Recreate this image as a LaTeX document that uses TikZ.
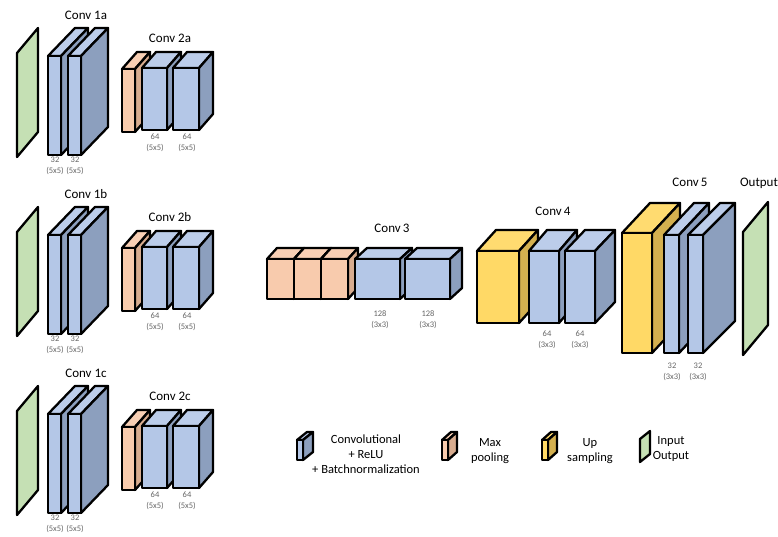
\documentclass[tikz,border=0pt]{standalone}
\usepackage{fontspec}
\setmainfont{Carlito}
\definecolor{convfront}{HTML}{B4C7E7}
\definecolor{convtop}{HTML}{BCCDEA}
\definecolor{convside}{HTML}{8C9FBE}
\definecolor{poolfront}{HTML}{F8CBAD}
\definecolor{pooltop}{HTML}{F8CFB4}
\definecolor{poolside}{HTML}{D8AC8F}
\definecolor{upfront}{HTML}{FFD966}
\definecolor{uptop}{HTML}{FFDB70}
\definecolor{upside}{HTML}{D4B04F}
\definecolor{iofill}{HTML}{C5E0B4}

\tikzset{blk/.style={draw=black,line width=2.3pt,line join=round},
  size/.style={text=black!60,font=\fontsize{8.5}{11}\selectfont,align=center},
  title/.style={font=\fontsize{13}{15}\selectfont},
  legend/.style={font=\fontsize{12.5}{15}\selectfont,align=center}}

% x, y (front top left), width, height, depth x, depth y, colour family
\newcommand{\cnnblock}[7]{%
  \filldraw[blk,fill=#7top] (#1,#2) -- ++(#5,-#6) -- ++(#3,0) -- ++(-#5,#6) -- cycle;
  \filldraw[blk,fill=#7side] (#1+#3,#2) -- ++(#5,-#6) -- ++(0,#4) -- ++(-#5,#6) -- cycle;
  \filldraw[blk,fill=#7front] (#1,#2) rectangle ++(#3,#4);}
% x, y (left top), height, depth x, depth y
\newcommand{\ioplane}[5]{%
  \filldraw[blk,fill=iofill] (#1,#2) -- ++(#4,-#5) -- ++(0,#3) -- ++(-#4,#5) -- cycle;}

\begin{document}
\begin{tikzpicture}[x=1pt,y=-1pt]
  \path[use as bounding box,fill=white] (0,0) rectangle (778,536);
  % three input branches
  \foreach \r/\s in {a/0,b/179,c/358} {
    \ioplane{17}{53+\s}{104}{21}{25}
    \cnnblock{48}{56+\s}{13}{99}{27}{28}{conv}
    \cnnblock{68}{56+\s}{13}{99}{27}{28}{conv}
    \cnnblock{122}{69+\s}{13}{63}{15}{17}{pool}
    \cnnblock{142}{68+\s}{25}{62}{14}{16}{conv}
    \cnnblock{173}{68+\s}{26}{62}{14}{16}{conv}
    \node[title] (conv1\r) at (86,15+\s) {Conv 1\r};
    \node[title] (conv2\r) at (170,38+\s) {Conv 2\r};
    \node[size] (s1\r) at (55,166+\s) {32\\(5x5)};
    \node[size] (s2\r) at (75,166+\s) {32\\(5x5)};
    \node[size] (s3\r) at (155,143+\s) {64\\(5x5)};
    \node[size] (s4\r) at (187,143+\s) {64\\(5x5)};
  }
  % conv 3
  \foreach \x in {267,294,321} {\cnnblock{\x}{259}{27}{40}{10}{11}{pool}}
  \cnnblock{355}{259}{45}{40}{12}{11}{conv}
  \cnnblock{405}{259}{45}{40}{12}{11}{conv}
  \node[title] (conv3) at (392,228) {Conv\,3};
  \node[size] (s5) at (380,320) {128\\(3x3)};
  \node[size] (s6) at (428,320) {128\\(3x3)};
  % conv 4
  \cnnblock{477}{251}{42}{72}{19}{21}{up}
  \cnnblock{529}{251}{30}{72}{18}{21}{conv}
  \cnnblock{565}{251}{30}{72}{20}{21}{conv}
  \node[title] (conv4) at (553,211) {Conv\,4};
  \node[size] (s7) at (547,340) {64\\(3x3)};
  \node[size] (s8) at (580,340) {64\\(3x3)};
  % conv 5 and output
  \cnnblock{622}{233}{30}{120}{28}{30}{up}
  \cnnblock{664}{235}{15}{118}{30}{32}{conv}
  \cnnblock{688}{235}{15}{118}{32}{32}{conv}
  \ioplane{743}{232}{123}{25}{30}
  \node[title] (conv5) at (690,182) {Conv\,5};
  \node[title] (out) at (759,183) {Output};
  \node[size] (s9) at (672,372) {32\\(3x3)};
  \node[size] (s10) at (698,372) {32\\(3x3)};
  % legend
  \cnnblock{297}{440}{6}{20}{10}{8}{conv}
  \cnnblock{442}{440}{6}{20}{9}{8}{pool}
  \cnnblock{542}{440}{6}{20}{9}{8}{up}
  \ioplane{640}{439}{23}{10}{8}
  \node[legend] (lconv) at (366,454) {Convolutional\\+ ReLU\\+ Batchnormalization};
  \node[legend] (lpool) at (490,451) {Max\\pooling};
  \node[legend] (lup) at (590,451) {Up\\sampling};
  \node[legend] (lio) at (671,449) {Input\\Output};
\end{tikzpicture}
\end{document}
